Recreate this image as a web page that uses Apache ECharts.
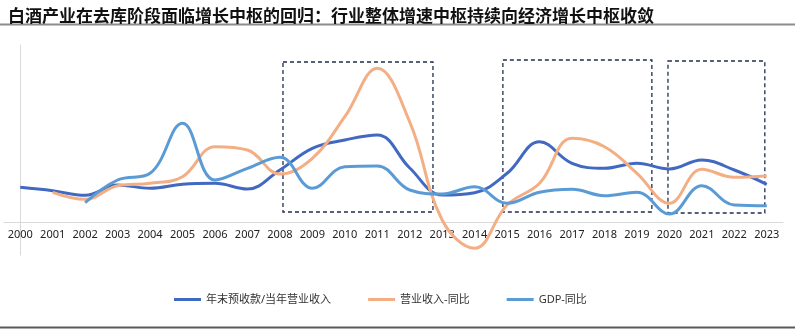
<!DOCTYPE html>
<html>
<head>
<meta charset="utf-8">
<script src="https://cdn.jsdelivr.net/npm/echarts@6/dist/echarts.min.js"></script>
<style>html,body{margin:0;padding:0;background:#fff}#c{width:795px;height:333px}</style>
</head>
<body>
<div id="c"></div>
<script>
const titleText = '白酒产业在去库阶段面临增长中枢的回归：行业整体增速中枢持续向经济增长中枢收敛';
const categories = ['2000','2001','2002','2003','2004','2005','2006','2007','2008','2009','2010','2011','2012','2013','2014','2015','2016','2017','2018','2019','2020','2021','2022','2023'];
const seriesNames = ['年末预收款/当年营业收入', '营业收入-同比', 'GDP-同比'];
const advanceRatio = [34.7,31.3,26.7,37,33.7,37.7,38.7,33,52,73.7,82,87,54,27,29.3,48.7,80.3,58.7,53.7,58.7,53,62,52,37.7];
const revenueYoY = [null,29.7,22.7,36.3,38.7,45.3,75.3,72,48,63.7,105.3,153.7,100,2,-26.3,17,38.7,83.7,75.3,48.7,18.7,52.7,44.7,46];
const gdpYoY = [null,null,19.3,42,48.7,98.7,42,53.7,64.7,33.7,55.3,56,32,28,35.3,18.7,29.7,32.7,26.3,29.7,8,36.3,17,16.3];
// annotation boxes: [xStartIndex, yTop, xEndIndex, yBottom]
const boxes = [[8.095,160,12.716,10],[14.87,162,19.46,10],[19.956,161,22.94,9]];

const chart = echarts.init(document.getElementById('c'));
const font = "'Noto Sans', 'Noto Sans CJK SC', sans-serif";
chart.setOption({
  animation: false,
  backgroundColor: '#fff',
  title: {
    text: titleText, left: 3, top: 2,
    textStyle: {fontSize: 17, fontWeight: 'bold', color: '#111', fontFamily: "'Noto Sans CJK SC', serif"}
  },
  graphic: [
    {type: 'line', shape: {x1: 0, y1: 24.5, x2: 795, y2: 24.5}, style: {stroke: '#8c8c8c', lineWidth: 2}},
    {type: 'line', shape: {x1: 0, y1: 327.5, x2: 795, y2: 327.5}, style: {stroke: '#595959', lineWidth: 2}}
  ],
  legend: {
    left: 169, top: 289,
    icon: 'rect', itemWidth: 27, itemHeight: 3, itemGap: 37,
    textStyle: {fontSize: 11, color: '#333', fontFamily: font},
    data: seriesNames
  },
  grid: {left: 4, right: 12, top: 45, bottom: 78},
  xAxis: [
    {
      type: 'category', data: categories, boundaryGap: true,
      axisLine: {show: true, onZero: true, lineStyle: {color: '#d9d9d9', width: 1}},
      axisTick: {show: false},
      axisLabel: {fontSize: 11, color: '#222', margin: -26, fontFamily: font, interval: 0}
    },
    {type: 'value', min: -0.5, max: 23.5, show: false}
  ],
  yAxis: {
    type: 'value', min: -33, max: 177,
    axisLine: {show: true, lineStyle: {color: '#d9d9d9'}},
    axisLabel: {show: false}, axisTick: {show: false}, splitLine: {show: false}
  },
  series: [
    {name: seriesNames[0], type: 'line', data: advanceRatio, smooth: 0.4, symbol: 'none',
     lineStyle: {width: 3, color: '#4169c1'}, itemStyle: {color: '#4169c1'}},
    {name: seriesNames[1], type: 'line', data: revenueYoY, smooth: 0.4, symbol: 'none', clip: false,
     lineStyle: {width: 3, color: '#f4ae84'}, itemStyle: {color: '#f4ae84'}},
    {name: seriesNames[2], type: 'line', data: gdpYoY, smooth: 0.4, symbol: 'none',
     lineStyle: {width: 3, color: '#5b9bd5'}, itemStyle: {color: '#5b9bd5'}},
    {type: 'line', xAxisIndex: 1, data: [], silent: true,
     markArea: {
       silent: true,
       itemStyle: {color: 'rgba(0,0,0,0)', borderColor: '#1f2d4d', borderWidth: 1.3, borderType: [4, 3]},
       data: boxes.map(b => [{coord: [b[0], b[1]]}, {coord: [b[2], b[3]]}])
     }}
  ]
});
</script>
</body>
</html>
